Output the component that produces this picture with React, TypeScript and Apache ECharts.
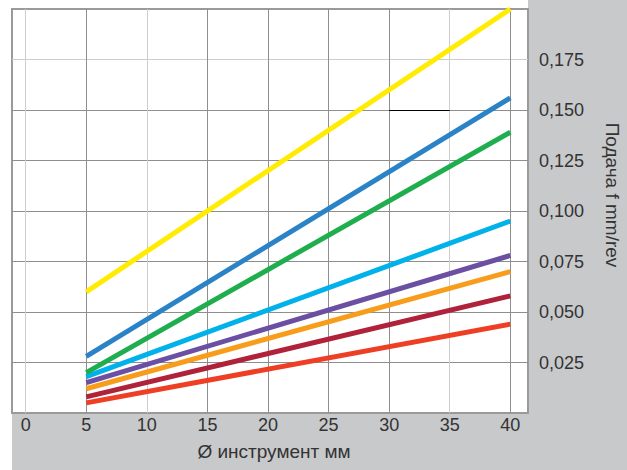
import React, { useEffect, useRef } from "react";
import * as echarts from "echarts";

const xTicks = [0, 5, 10, 15, 20, 25, 30, 35, 40];
const xEnds = [5, 40];
const yellow = [0.06, 0.2];
const blue = [0.028, 0.156];
const green = [0.02, 0.139];
const cyan = [0.018, 0.095];
const purple = [0.015, 0.078];
const orange = [0.012, 0.07];
const darkRed = [0.008, 0.058];
const red = [0.005, 0.044];
const markSegment = [[30, 0.15], [35, 0.15]];

const seriesDefs: [string, number[], string][] = [
  ["yellow", yellow, "#ffec00"],
  ["blue", blue, "#2a83c6"],
  ["green", green, "#1fae4e"],
  ["cyan", cyan, "#00b1ea"],
  ["purple", purple, "#6a4fa2"],
  ["orange", orange, "#f89c1c"],
  ["darkRed", darkRed, "#b0213a"],
  ["red", red, "#ee3e24"],
];

const FONT = "'Liberation Sans', Arial, Helvetica, sans-serif";

export default function App() {
  const ref = useRef<HTMLDivElement>(null);
  useEffect(() => {
    if (!ref.current) return;
    const chart = echarts.init(ref.current, null, { renderer: "svg" });
    const dark = "#8e8e8e";
    const light = "#cdcdcd";
    const series: any[] = seriesDefs.map(([name, vals, color], i) => ({
      name,
      type: "line",
      xAxisIndex: 1,
      yAxisIndex: 1,
      data: xEnds.map((x, k) => [x, vals[k]]),
      showSymbol: false,
      symbol: "none",
      lineStyle: { color, width: 5, cap: "butt" },
      itemStyle: { color },
      z: 10 - i,
      silent: true,
    }));
    series[0].markLine = {
      silent: true,
      symbol: "none",
      label: { show: false },
      lineStyle: { color: "#000", width: 1, type: "solid" },
      data: [[{ coord: markSegment[0] }, { coord: markSegment[1] }]],
    };
    chart.setOption({
      animation: false,
      backgroundColor: "#ffffff",
      textStyle: { fontFamily: FONT },
      graphic: [
        { type: "rect", z: -10, shape: { x: 528, y: 0, width: 99, height: 470 }, style: { fill: "#c8c9cb" } },
        { type: "rect", z: -10, shape: { x: 12, y: 413, width: 615, height: 57 }, style: { fill: "#c8c9cb" } },
        {
          type: "text",
          x: 274,
          y: 451,
          style: { text: "Ø инструмент мм", fill: "#333", font: `19px ${FONT}`, textAlign: "center", textVerticalAlign: "middle" },
        },
        {
          type: "text",
          x: 612,
          y: 195,
          rotation: -Math.PI / 2,
          style: { text: "Подача f mm/rev", fill: "#333", font: `19px ${FONT}`, textAlign: "center", textVerticalAlign: "middle" },
        },
      ],
      grid: [
        { left: 12, top: 9, width: 516, height: 404, show: true, backgroundColor: "#fff", borderColor: "#9a9a9a", borderWidth: 2 },
        { left: 25.7, top: 9, width: 484.6, height: 404 },
      ],
      xAxis: [
        { gridIndex: 0, type: "value", min: 0, max: 1, show: false },
        {
          gridIndex: 1,
          type: "value",
          min: xTicks[0],
          max: xTicks[xTicks.length - 1],
          interval: 5,
          axisLine: { show: false },
          axisTick: { show: false },
          axisLabel: { color: "#333", fontSize: 18, margin: 3, fontFamily: FONT },
          splitLine: {
            show: true,
            lineStyle: { width: 1, color: [light, dark, light, dark, dark, dark, dark, light, dark] },
          },
        },
      ],
      yAxis: [
        {
          gridIndex: 0,
          type: "value",
          position: "right",
          min: 0,
          max: 0.2,
          interval: 0.025,
          axisLine: { show: false },
          axisTick: { show: false },
          axisLabel: {
            color: "#333",
            fontSize: 18,
            margin: 11,
            fontFamily: FONT,
            formatter: (v: number) => (v <= 0 || v >= 0.2 ? "" : v.toFixed(3).replace(".", ",")),
          },
          splitLine: {
            show: true,
            lineStyle: { width: 1, color: ["#9a9a9a", dark, dark, dark, dark, dark, dark, light, "#9a9a9a"] },
          },
        },
        { gridIndex: 1, type: "value", min: 0, max: 0.2, show: false },
      ],
      series,
    });
    return () => chart.dispose();
  }, []);
  return <div ref={ref} style={{ position: "fixed", left: 0, top: 0, width: 627, height: 470 }} />;
}
